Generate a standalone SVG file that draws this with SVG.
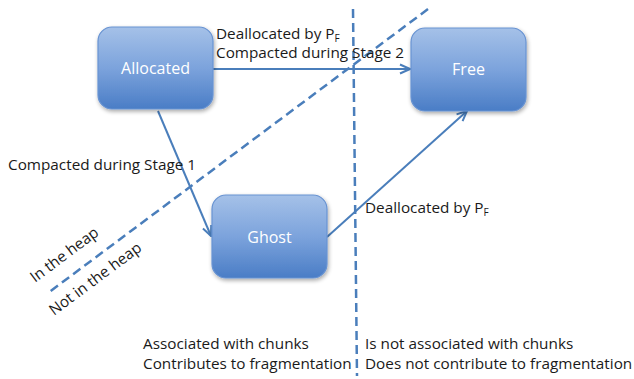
<svg xmlns="http://www.w3.org/2000/svg" width="634" height="379" viewBox="0 0 634 379">
<defs>
<linearGradient id="g" x1="0" y1="0" x2="0" y2="1">
<stop offset="0" stop-color="#a5c1e8"/>
<stop offset="0.5" stop-color="#7ca3dc"/>
<stop offset="1" stop-color="#4a7dc6"/>
</linearGradient>
<filter id="sh" x="-10%" y="-10%" width="130%" height="130%">
<feGaussianBlur in="SourceAlpha" stdDeviation="2"/>
<feOffset dx="1" dy="2"/>
<feComponentTransfer><feFuncA type="linear" slope="0.35"/></feComponentTransfer>
<feMerge><feMergeNode/><feMergeNode in="SourceGraphic"/></feMerge>
</filter>
<marker id="ah" viewBox="0 0 12 12" refX="11" refY="6" markerWidth="12" markerHeight="12" markerUnits="userSpaceOnUse" orient="auto">
<path d="M1,1.5 L11,6 L1,10.5" fill="none" stroke="#4a7ebb" stroke-width="2"/>
</marker>
</defs>
<style>
.box{fill:url(#g);stroke:#6893d2;stroke-width:1.2;filter:url(#sh)}
.lbl{font-family:"Open Sans","Liberation Sans",sans-serif;font-size:16px;fill:#ffffff;text-anchor:middle}
.t{font-family:"Open Sans","Liberation Sans",sans-serif;font-size:15.3px;fill:#1a1a1a}
.sub{font-size:10px}
.conn{stroke:#4a7ebb;stroke-width:2;fill:none;marker-end:url(#ah)}
.dash{stroke:#4a7ebb;stroke-width:2.5;fill:none;stroke-dasharray:9,5}
</style>
<g id="dividers">
<line class="dash" x1="353" y1="9" x2="357" y2="376"/>
<line class="dash" x1="428" y1="9" x2="48" y2="293"/>
</g>
<g id="connectors">
<line class="conn" x1="213" y1="69" x2="410" y2="69"/>
<line class="conn" x1="158" y1="111" x2="211" y2="236"/>
<line class="conn" x1="327" y1="237" x2="467" y2="111"/>
</g>
<g id="allocated">
<rect class="box" x="98" y="27" width="115" height="82" rx="14"/>
<text class="lbl" x="155.5" y="74">Allocated</text>
</g>
<g id="free">
<rect class="box" x="411" y="28" width="115" height="83" rx="14"/>
<text class="lbl" x="468.5" y="75">Free</text>
</g>
<g id="ghost">
<rect class="box" x="212" y="195" width="115" height="83" rx="14"/>
<text class="lbl" x="269.5" y="243">Ghost</text>
</g>
<g id="labels">
<text class="t" x="216" y="39">Deallocated by P<tspan class="sub" dy="3">F</tspan></text>
<text class="t" x="216" y="58">Compacted during Stage 2</text>
<text class="t" x="8" y="170">Compacted during Stage 1</text>
<text class="t" x="365" y="213">Deallocated by P<tspan class="sub" dy="3">F</tspan></text>
<text class="t" transform="translate(35,283) rotate(-36.7)">In the heap</text>
<text class="t" transform="translate(54,316) rotate(-36.7)">Not in the heap</text>
<text class="t" x="143" y="349">Associated with chunks</text>
<text class="t" x="143" y="369">Contributes to fragmentation</text>
<text class="t" x="365" y="349">Is not associated with chunks</text>
<text class="t" x="365" y="369">Does not contribute to fragmentation</text>
</g>
</svg>
